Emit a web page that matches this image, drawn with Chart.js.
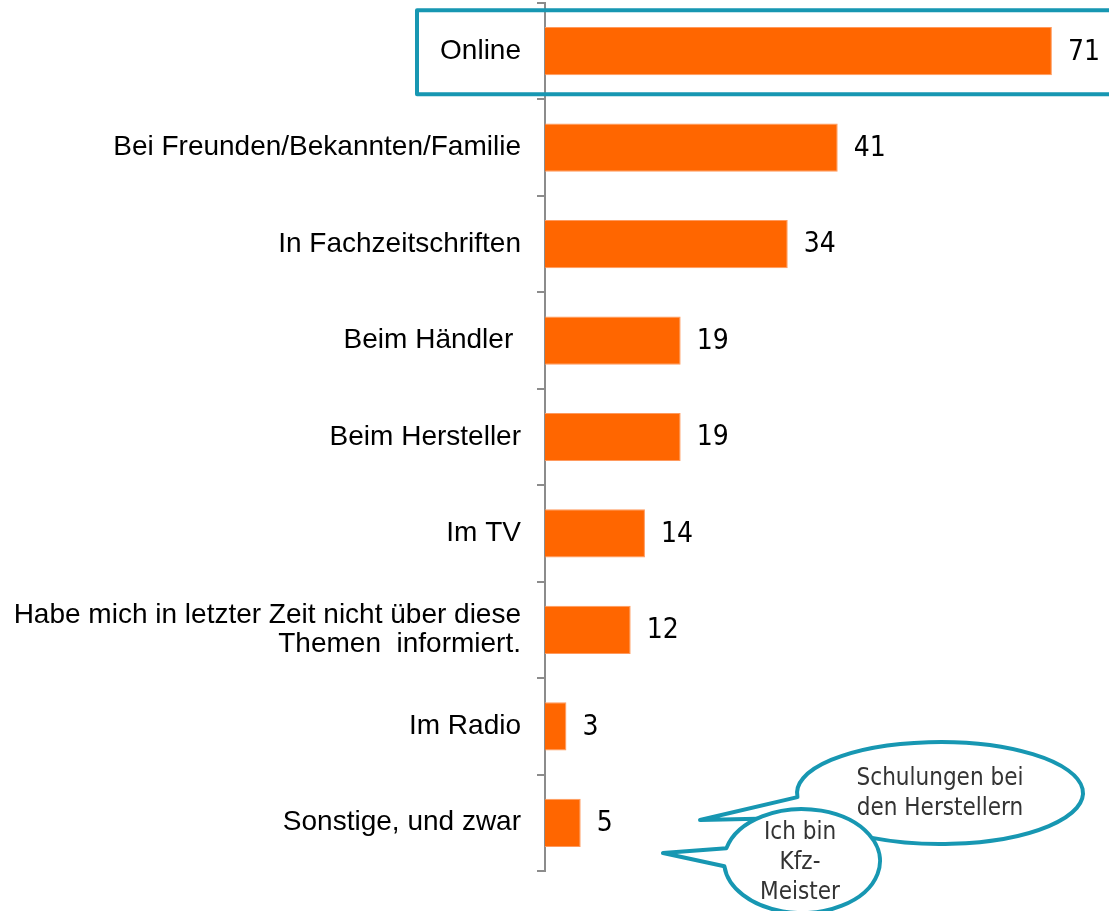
<!DOCTYPE html>
<html>
<head>
<meta charset="utf-8">
<script src="https://cdn.jsdelivr.net/npm/chart.js@4/dist/chart.umd.min.js"></script>
<style>
  html, body { margin: 0; padding: 0; background: #fff; }
  #wrap { width: 1109px; height: 911px; position: relative; }
</style>
</head>
<body>
<div id="wrap"><canvas id="chart"></canvas></div>
<script>
const categories = [
  'Online',
  'Bei Freunden/Bekannten/Familie',
  'In Fachzeitschriften',
  'Beim Händler ',
  'Beim Hersteller',
  'Im TV',
  ['Habe mich in letzter Zeit nicht über diese', 'Themen  informiert.'],
  'Im Radio',
  'Sonstige, und zwar'
];
const values = [71, 41, 34, 19, 19, 14, 12, 3, 5];
const highlighted = 0; // index of the boxed category
const bubbleNotes = [
  ['Schulungen bei', 'den Herstellern'],
  ['Ich bin', 'Kfz-', 'Meister']
];

const ORANGE = '#FF6600';
const TEAL = '#1797B2';
const AXIS = '#8C8C8C';
const NOTE_FONT = '"DejaVu Sans Condensed", "DejaVu Sans", sans-serif';

// value labels at the end of each bar
const valueLabels = {
  id: 'valueLabels',
  afterDatasetsDraw(chart) {
    const ctx = chart.ctx;
    const meta = chart.getDatasetMeta(0);
    ctx.save();
    ctx.font = '28px ' + NOTE_FONT;
    ctx.fillStyle = '#000';
    ctx.textAlign = 'left';
    ctx.textBaseline = 'middle';
    meta.data.forEach((bar, i) => {
      ctx.fillText(String(values[i]), bar.x + 16, bar.y + 1);
    });
    ctx.restore();
  }
};

function bubblePath(ctx, cx, cy, rx, ry, tA, tB, tipX, tipY) {
  ctx.beginPath();
  ctx.ellipse(cx, cy, rx, ry, 0, tA, tB, false);
  ctx.lineTo(tipX, tipY);
  ctx.closePath();
}

const decorations = {
  id: 'decorations',
  afterDraw(chart) {
    const ctx = chart.ctx;
    const y = chart.scales.y;
    const area = chart.chartArea;
    ctx.save();

    // box round the highlighted row
    const yc = y.getPixelForValue(highlighted);
    ctx.strokeStyle = TEAL;
    ctx.lineWidth = 4;
    ctx.lineJoin = 'round';
    ctx.strokeRect(417, yc - 41, area.right - 417 + 20, 84);

    // speech bubbles
    ctx.lineWidth = 4;
    ctx.fillStyle = '#fff';
    bubblePath(ctx, 940, 793, 143, 51, Math.PI - 0.08, Math.PI - 0.5, 700, 820);
    ctx.fill();
    ctx.stroke();

    bubblePath(ctx, 802, 861, 78, 52, Math.PI + 0.25, Math.PI - 0.1, 663, 853);
    ctx.fill();
    ctx.stroke();

    ctx.fillStyle = '#333';
    ctx.font = '24px ' + NOTE_FONT;
    ctx.textAlign = 'center';
    ctx.textBaseline = 'middle';
    bubbleNotes[0].forEach((t, i) => ctx.fillText(t, 940, 779 + i * 30));
    bubbleNotes[1].forEach((t, i) => ctx.fillText(t, 800, 833 + i * 30));

    ctx.restore();
  }
};

new Chart(document.getElementById('chart'), {
  type: 'bar',
  data: {
    labels: categories,
    datasets: [{
      data: values,
      backgroundColor: ORANGE,
      borderColor: '#FF9A5E',
      borderWidth: 1,
      borderSkipped: 'start',
      barPercentage: 0.5,
      categoryPercentage: 1
    }]
  },
  options: {
    indexAxis: 'y',
    responsive: true,
    maintainAspectRatio: false,
    animation: false,
    events: [],
    layout: { padding: { top: 3, bottom: 40, left: 0, right: 0 } },
    plugins: {
      legend: { display: false },
      tooltip: { enabled: false }
    },
    scales: {
      x: {
        display: false,
        min: 0,
        max: 79
      },
      y: {
        afterFit(scale) {
          scale.width = 545;
          scale.paddingTop = 0;
          scale.paddingBottom = 0;
        },
        border: { display: true, color: AXIS, width: 2 },
        grid: {
          offset: true,
          drawOnChartArea: false,
          drawTicks: true,
          tickLength: 8,
          color: AXIS,
          lineWidth: 2
        },
        ticks: {
          color: '#000',
          padding: 16,
          font: { family: '"Liberation Sans", Arial, sans-serif', size: 28, lineHeight: 1.05 }
        }
      }
    }
  },
  plugins: [valueLabels, decorations]
});
</script>
</body>
</html>
